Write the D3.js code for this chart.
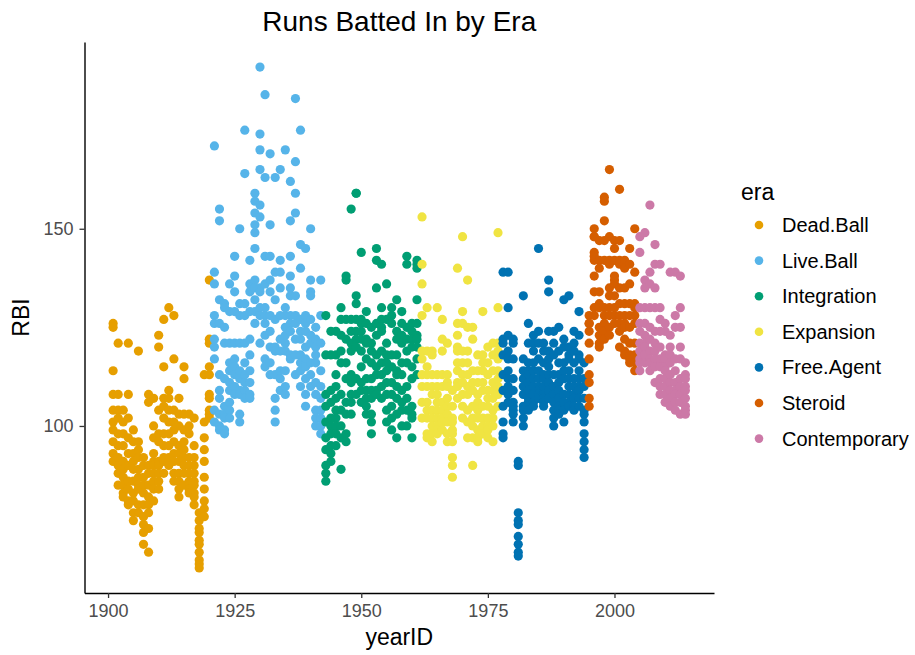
<!DOCTYPE html>
<html>
<head>
<meta charset="utf-8">
<script src="https://cdn.jsdelivr.net/npm/d3@7"></script>
<style>
    body { margin: 0; background: #fff; }
    svg#chart { display: block; font-family: "Liberation Sans", Arial, Helvetica, sans-serif; }
</style>
</head>
<body>
<svg id="chart" width="915" height="655"></svg>
<script>
// RBI values, one list per season
const eras = ["Dead.Ball", "Live.Ball", "Integration", "Expansion", "Free.Agent", "Steroid", "Contemporary"];
const eraColors = ["#E69F00", "#56B4E9", "#009E73", "#F0E442", "#0072B2", "#D55E00", "#CC79A7"];
const eraStartYears = [1901, 1921, 1943, 1962, 1978, 1995, 2005];

const deadBall = [
    [126, 125, 114, 108, 104, 101, 99, 96, 93, 91],   // 1901
    [121, 108, 104, 102, 98, 95, 92, 90, 88, 85],
    [104, 101, 98, 95, 91, 89, 87, 85, 83, 82],
    [121, 108, 102, 97, 93, 90, 86, 84, 81, 80],
    [99, 96, 93, 91, 89, 86, 83, 81, 78, 76],
    [119, 96, 94, 92, 89, 87, 85, 84, 80, 78],
    [92, 90, 87, 85, 83, 80, 77, 75, 73, 70],
    [108, 106, 90, 88, 85, 82, 80, 78, 74, 68],
    [107, 100, 97, 93, 91, 90, 88, 86, 84, 81],
    [123, 120, 104, 98, 96, 91, 90, 88, 86, 84],      // 1910
    [127, 115, 107, 105, 102, 98, 95, 92, 91, 88],
    [130, 109, 107, 104, 101, 98, 95, 92, 91, 90],
    [128, 117, 104, 101, 99, 96, 93, 91, 88, 86],
    [107, 103, 100, 95, 93, 91, 88, 86, 84, 82],
    [115, 112, 103, 99, 96, 94, 92, 90, 88, 85],
    [103, 100, 98, 92, 90, 88, 86, 85, 84, 83],
    [102, 95, 92, 90, 88, 86, 85, 83, 82, 80],
    [78, 76, 74, 73, 71, 70, 68, 66, 65, 64],
    [113, 101, 97, 94, 91, 87, 84, 81, 79, 77],
    [137, 122, 121, 115, 113, 108, 107, 104, 103, 102] // 1920
];

const liveBall = [
    [171, 139, 136, 128, 126, 122, 120, 117, 104, 101], // 1921
    [155, 152, 132, 126, 113, 109, 107, 103, 100, 99],
    [131, 130, 125, 121, 112, 105, 103, 102, 99, 98],
    [136, 129, 121, 116, 114, 111, 109, 106, 104, 102],
    [143, 138, 134, 129, 121, 117, 115, 113, 110, 108],
    [150, 131, 128, 121, 114, 112, 109, 108, 103, 101],
    [175, 164, 131, 128, 121, 116, 113, 111, 109, 107],
    [142, 136, 134, 129, 122, 118, 114, 111, 108, 107],
    [159, 157, 154, 151, 149, 145, 137, 135, 132, 129, 126],
    [191, 174, 170, 165, 156, 153, 135, 134, 130, 128, 121], // 1930
    [184, 163, 143, 136, 130, 128, 126, 123, 117, 115],
    [169, 151, 143, 137, 134, 128, 124, 120, 116, 113],
    [163, 139, 132, 127, 120, 119, 113, 107, 104, 101],
    [165, 142, 139, 135, 128, 122, 119, 114, 112, 109],
    [170, 130, 128, 125, 123, 121, 119, 114, 110, 108],
    [162, 152, 143, 138, 135, 133, 128, 126, 124, 118, 117],
    [183, 167, 159, 154, 133, 128, 126, 122, 118, 113],
    [175, 146, 140, 127, 124, 122, 118, 116, 114, 110],
    [145, 128, 126, 124, 120, 117, 115, 112, 108, 105],
    [150, 137, 134, 133, 127, 123, 121, 116, 113, 110], // 1940
    [125, 122, 120, 118, 116, 111, 108, 104, 102, 100],
    [137, 128, 121, 114, 110, 107, 104, 102, 100, 98]
];

const integration = [
    [128, 118, 108, 105, 101, 97, 94, 90, 88, 86],     // 1943
    [124, 118, 109, 106, 102, 100, 98, 95, 93, 91],
    [124, 118, 113, 110, 107, 104, 102, 100, 98, 95],
    [130, 127, 123, 119, 116, 108, 104, 100, 97, 89],
    [138, 137, 127, 122, 116, 112, 106, 103, 98, 96],
    [155, 127, 124, 121, 119, 113, 111, 108, 106, 103],
    [159, 159, 133, 131, 127, 124, 122, 120, 112, 108],
    [144, 127, 126, 124, 122, 119, 115, 111, 109, 106], // 1950
    [129, 126, 122, 121, 117, 112, 109, 107, 105, 103],
    [125, 121, 119, 116, 112, 109, 107, 103, 101, 98],
    [145, 142, 135, 126, 123, 118, 115, 113, 109, 108],
    [141, 130, 127, 125, 124, 119, 116, 113, 110, 107],
    [136, 127, 121, 118, 116, 114, 111, 108, 104, 101],
    [130, 128, 126, 118, 115, 111, 108, 105, 102, 99],
    [132, 124, 122, 118, 114, 113, 110, 107, 103, 97],
    [129, 126, 123, 121, 116, 113, 109, 106, 104, 100],
    [143, 141, 125, 122, 119, 116, 110, 107, 104, 100],
    [126, 124, 122, 120, 115, 112, 105, 103, 102, 97],  // 1960
    [142, 141, 140, 132, 126, 123, 122, 120, 117, 113]
];

const expansion = [
    [153, 141, 136, 128, 119, 117, 113, 110, 106, 102], // 1962
    [130, 119, 115, 113, 110, 106, 104, 102, 98, 97],
    [119, 118, 113, 110, 108, 104, 102, 100, 98, 96],
    [130, 113, 110, 108, 106, 104, 102, 100, 99, 98],
    [127, 122, 119, 113, 110, 106, 104, 102, 101, 99],
    [121, 113, 111, 110, 107, 105, 103, 101, 98, 96],
    [109, 105, 102, 101, 99, 98, 96, 92, 90, 87],
    [140, 126, 123, 120, 119, 116, 114, 111, 110, 107],
    [148, 129, 126, 119, 116, 113, 111, 108, 105, 102], // 1970
    [137, 125, 119, 116, 113, 110, 108, 104, 101, 97],
    [125, 122, 114, 111, 109, 105, 102, 100, 97, 90],
    [118, 114, 111, 108, 106, 104, 102, 99, 97, 96],
    [129, 118, 116, 114, 111, 109, 105, 102, 100, 98],
    [120, 116, 113, 109, 107, 105, 102, 100, 99, 97],
    [121, 118, 114, 111, 109, 107, 104, 102, 100, 96],
    [149, 130, 121, 119, 117, 114, 112, 110, 108, 105]
];

const freeAgent = [
    [139, 122, 121, 118, 113, 109, 105, 101, 98, 97],   // 1978
    [139, 130, 123, 119, 117, 114, 112, 110, 108, 106],
    [122, 121, 117, 112, 109, 106, 105, 104, 103, 101], // 1980
    [91, 90, 78, 76, 75, 72, 70, 68, 67],
    [133, 117, 114, 112, 110, 108, 105, 104, 102, 100],
    [126, 121, 116, 114, 113, 111, 109, 107, 106, 104],
    [123, 121, 119, 116, 114, 112, 110, 108, 106, 105],
    [145, 124, 121, 117, 114, 112, 110, 109, 108, 107],
    [121, 119, 116, 113, 112, 110, 108, 107, 106, 105],
    [137, 134, 124, 119, 117, 115, 113, 111, 109, 107],
    [124, 121, 118, 113, 110, 108, 106, 104, 102, 100],
    [125, 119, 116, 113, 111, 109, 107, 105, 104, 103],
    [132, 122, 120, 116, 114, 112, 108, 106, 104, 101], // 1990
    [133, 120, 118, 117, 114, 112, 110, 108, 106, 105],
    [124, 121, 119, 116, 112, 110, 108, 107, 105, 104],
    [129, 123, 118, 117, 114, 112, 110, 109, 107, 105],
    [116, 112, 110, 107, 104, 103, 101, 98, 96, 94, 92]
];

const steroid = [
    [128, 126, 126, 124, 121, 117, 113, 111, 107, 105], // 1995
    [150, 148, 148, 144, 143, 142, 138, 134, 130, 128],
    [147, 142, 140, 134, 131, 130, 125, 123, 121, 120],
    [158, 157, 152, 147, 142, 130, 128, 126, 124, 122],
    [165, 148, 142, 141, 135, 133, 130, 128, 125, 123],
    [147, 145, 142, 138, 137, 136, 133, 130, 128, 126], // 2000
    [160, 147, 142, 141, 135, 131, 128, 126, 124, 120],
    [142, 140, 135, 131, 128, 126, 125, 122, 119, 118],
    [145, 141, 136, 131, 128, 125, 121, 118, 117, 116],
    [150, 139, 131, 130, 128, 126, 121, 118, 116, 114]
];

const contemporary = [
    [148, 144, 130, 126, 124, 121, 119, 117, 116, 114], // 2005
    [149, 137, 135, 130, 126, 123, 121, 120, 118, 116],
    [156, 139, 136, 130, 125, 122, 119, 117, 116, 114],
    [146, 141, 135, 130, 124, 121, 119, 117, 115, 111],
    [141, 130, 127, 124, 120, 117, 115, 112, 110, 108],
    [126, 124, 118, 117, 115, 114, 112, 110, 108, 106], // 2010
    [139, 123, 120, 118, 116, 113, 111, 109, 107, 105],
    [139, 128, 125, 117, 114, 111, 109, 108, 106, 104],
    [138, 130, 125, 120, 117, 112, 110, 108, 106, 103],
    [116, 113, 112, 110, 109, 107, 105, 104, 103]
];

const xTicks = [1900, 1925, 1950, 1975, 2000];
const yTicks = [100, 150];

function buildPoints() {
    const eraLists = [deadBall, liveBall, integration, expansion, freeAgent, steroid, contemporary];
    let points = [];
    eraLists.forEach((list, e) => {
        list.forEach((values, i) => {
            values.forEach(v => points.push({
                year: eraStartYears[e] + i,
                rbi: v,
                era: eras[e]
            }));
        });
    });
    return points;
}

function expand(extent) {
    const pad = (extent[1] - extent[0]) * 0.05;
    return [extent[0] - pad, extent[1] + pad];
}

function createAxis(svg, data, area) {
    let scaleX = d3.scaleLinear()
        .domain(expand(d3.extent(data, d => d.year)))
        .range([area.left, area.right]);
    let scaleY = d3.scaleLinear()
        .domain(expand(d3.extent(data, d => d.rbi)))
        .range([area.bottom, area.top]);

    let axisX = d3.axisBottom(scaleX)
        .tickValues(xTicks)
        .tickFormat(d3.format("d"))
        .tickSizeInner(5)
        .tickSizeOuter(0)
        .tickPadding(6);
    let axisY = d3.axisLeft(scaleY)
        .tickValues(yTicks)
        .tickSizeInner(5)
        .tickSizeOuter(0)
        .tickPadding(6);

    const gx = svg.append("g")
        .attr("transform", `translate(0, ${area.bottom})`)
        .call(axisX);
    const gy = svg.append("g")
        .attr("transform", `translate(${area.left}, 0)`)
        .call(axisY);

    [gx, gy].forEach(g => {
        g.select(".domain").attr("stroke", "#000").attr("stroke-width", 1.4);
        g.selectAll(".tick line").attr("stroke", "#333").attr("stroke-width", 1.3);
        g.selectAll(".tick text")
            .attr("fill", "#4d4d4d")
            .style("font-size", "18px")
            .style("font-family", null);
    });

    // axis titles
    svg.append("text")
        .attr("x", (area.left + area.right) / 2)
        .attr("y", 645)
        .attr("text-anchor", "middle")
        .style("font-size", "23px")
        .text("yearID");
    svg.append("text")
        .attr("transform", `translate(29, ${(area.top + area.bottom) / 2}) rotate(-90)`)
        .attr("text-anchor", "middle")
        .style("font-size", "23px")
        .text("RBI");

    return [scaleX, scaleY];
}

function createScatterChart(svg, data, scaleX, scaleY, color) {
    svg.append("g")
        .selectAll("circle")
        .data(data)
        .enter()
        .append("circle")
        .attr("cx", d => scaleX(d.year))
        .attr("cy", d => scaleY(d.rbi))
        .attr("r", 4.6)
        .style("fill", d => color(d.era));
}

function createLegend(svg, color) {
    const g = svg.append("g");
    g.append("text")
        .attr("x", 741)
        .attr("y", 200)
        .style("font-size", "23px")
        .text("era");

    const item = g.selectAll(".key")
        .data(eras)
        .enter()
        .append("g")
        .attr("transform", (d, i) => `translate(0, ${225 + i * 35.6})`);
    item.append("circle")
        .attr("cx", 759)
        .attr("cy", 0)
        .attr("r", 4.3)
        .style("fill", d => color(d));
    item.append("text")
        .attr("x", 782)
        .attr("y", 0)
        .attr("dy", "0.35em")
        .style("font-size", "20px")
        .text(d => d);
}

function drawGraph() {
    const svg = d3.select("svg#chart");
    const data = buildPoints();

    const area = { left: 84.5, right: 714, top: 42, bottom: 593 };
    const color = d3.scaleOrdinal().domain(eras).range(eraColors);

    const [scX, scY] = createAxis(svg, data, area);
    createScatterChart(svg, data, scX, scY, color);
    createLegend(svg, color);

    svg.append("text")
        .attr("x", (area.left + area.right) / 2)
        .attr("y", 31)
        .attr("text-anchor", "middle")
        .style("font-size", "28px")
        .text("Runs Batted In by Era");
}

drawGraph();
</script>
</body>
</html>
